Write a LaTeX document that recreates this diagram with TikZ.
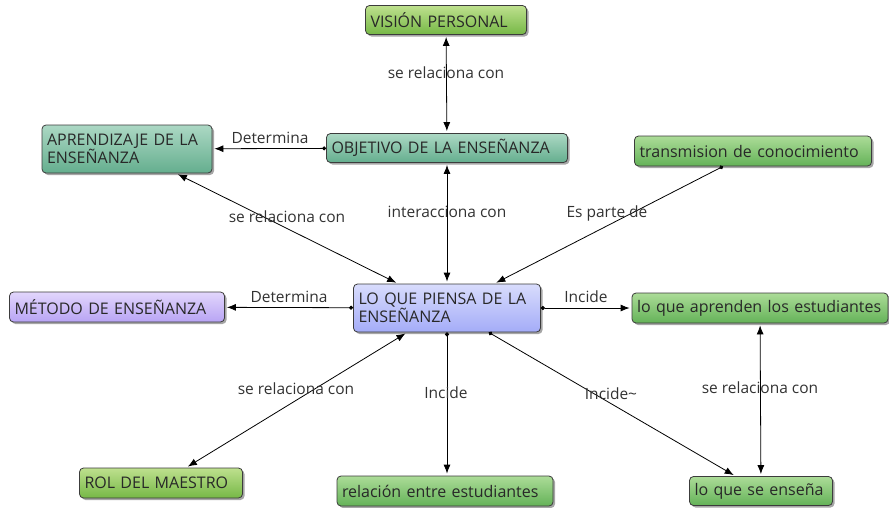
\documentclass[tikz,border=0pt]{standalone}
\usepackage{fontspec}
\setmainfont{Open Sans}
\usepackage{tikz}
\usetikzlibrary{arrows.meta, shadows}

\begin{document}
\begin{tikzpicture}[x=1pt, y=-1pt,
    concept/.style={draw=boxline, rounded corners=4pt, thick,
        inner xsep=5pt, inner ysep=2pt, align=left, text=boxtext,
        font=\fontsize{16}{18}\selectfont,
        drop shadow={shadow xshift=2pt, shadow yshift=-2pt, fill=black!50, opacity=0.7}},
    link/.style={text=labeltext, font=\fontsize{15.5}{18}\selectfont, inner sep=0pt},
    oneway/.style={{Circle[length=4pt]}-{Latex[length=9pt,width=7pt]}, thick, shorten >=2pt},
    twoway/.style={{Latex[length=9pt,width=7pt]}-{Latex[length=9pt,width=7pt]}, thick, shorten >=2pt, shorten <=2pt}]
% Define colors
\definecolor{boxline}{RGB}{60, 60, 60}
\definecolor{boxtext}{RGB}{40, 40, 40}
\definecolor{labeltext}{RGB}{50, 50, 50}
\definecolor{limetop}{RGB}{190, 224, 142}
\definecolor{limebot}{RGB}{118, 184, 70}
\definecolor{greentop}{RGB}{172, 220, 152}
\definecolor{greenbot}{RGB}{100, 178, 88}
\definecolor{tealtop}{RGB}{172, 216, 196}
\definecolor{tealbot}{RGB}{100, 174, 142}
\definecolor{lilactop}{RGB}{226, 214, 252}
\definecolor{lilacbot}{RGB}{184, 164, 244}
\definecolor{bluetop}{RGB}{216, 220, 252}
\definecolor{bluebot}{RGB}{164, 172, 248}

\useasboundingbox (0,0) rectangle (889,507);

% Concepts
\node[concept, top color=limetop, bottom color=limebot, text width=151, minimum height=29] (vision) at (446,20) {VISIÓN PERSONAL};
\node[concept, top color=tealtop, bottom color=tealbot, text width=231, minimum height=29] (objetivo) at (447,148) {OBJETIVO DE LA ENSEÑANZA};
\node[concept, top color=tealtop, bottom color=tealbot, text width=160, minimum height=48] (aprendizaje) at (127,149) {APRENDIZAJE DE LA\\ENSEÑANZA};
\node[concept, top color=greentop, bottom color=greenbot, text width=227, minimum height=30] (transmision) at (753,151) {transmision de conocimiento};
\node[concept, top color=bluetop, bottom color=bluebot, text width=177, minimum height=48] (piensa) at (447,308) {LO QUE PIENSA DE LA\\ENSEÑANZA};
\node[concept, top color=lilactop, bottom color=lilacbot, text width=205, minimum height=30] (metodo) at (117,307) {MÉTODO DE ENSEÑANZA};
\node[concept, top color=greentop, bottom color=greenbot, text width=246, minimum height=30] (aprenden) at (760,308) {lo que aprenden los estudiantes};
\node[concept, top color=limetop, bottom color=limebot, text width=153, minimum height=30] (rol) at (161,483) {ROL DEL MAESTRO};
\node[concept, top color=greentop, bottom color=greenbot, text width=206, minimum height=30] (relacion) at (445,491) {relación entre estudiantes};
\node[concept, top color=greentop, bottom color=greenbot, text width=133, minimum height=29] (ensena) at (761,491) {lo que se enseña};

% Connectors
\draw[twoway] (vision) -- (objetivo);
\draw[oneway] (objetivo) -- (aprendizaje);
\draw[twoway] (objetivo) -- (piensa);
\draw[twoway] (piensa) -- (aprendizaje);
\draw[oneway] (transmision) -- (piensa);
\draw[oneway] (piensa) -- (metodo);
\draw[oneway] (piensa) -- (aprenden);
\draw[twoway] (piensa) -- (rol);
\draw[oneway] (piensa.south) -- (piensa.south |- relacion.north);
\draw[oneway] (piensa) -- (ensena);
\draw[twoway] (aprenden) -- (ensena);

% Labels
\node[link] (l1) at (446,73) {se relaciona con};
\node[link] (l2) at (270,138) {Determina};
\node[link] (l3) at (447,212) {interacciona con};
\node[link] (l4) at (287,217) {se relaciona con};
\node[link] (l5) at (607,213) {Es parte de};
\node[link] (l6) at (289,297) {Determina};
\node[link] (l7) at (586,297) {Incide};
\node[link] (l8) at (296,389) {se relaciona con};
\node[link] (l9) at (446,393) {Incide};
\node[link] (l10) at (611,394) {Incide\textasciitilde};
\node[link] (l11) at (760,388) {se relaciona con};
\end{tikzpicture}
\end{document}
